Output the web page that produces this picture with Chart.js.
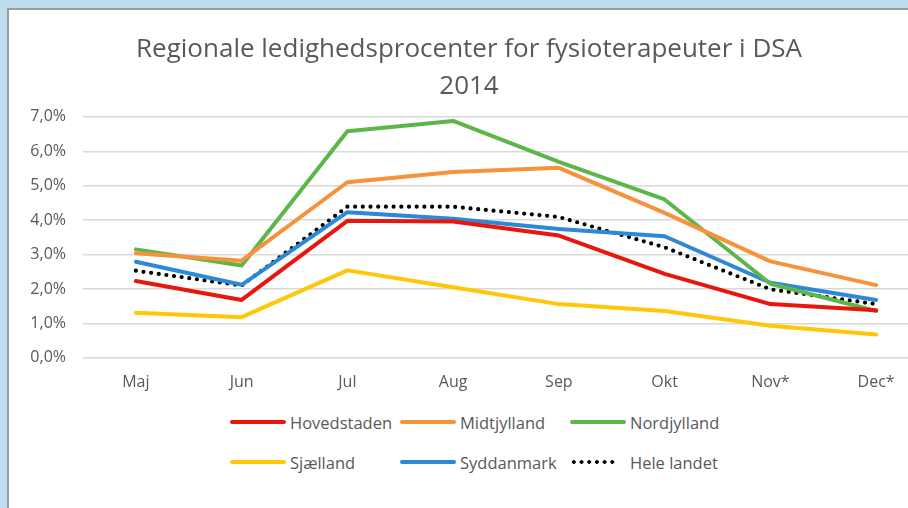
<!DOCTYPE html>
<html>
<head>
<meta charset="utf-8">
<script src="https://cdn.jsdelivr.net/npm/chart.js@4.4.1/dist/chart.umd.min.js"></script>
<style>
  html, body { margin: 0; padding: 0; width: 908px; height: 508px; overflow: hidden; background: #bddcee; }
  #frame {
    position: absolute; left: 7px; top: 8px; width: 950px; height: 520px;
    border-left: 2px solid #9c9c9c; border-top: 2px solid #9c9c9c; background: #ffffff;
  }
  #wrap { position: absolute; left: 0; top: 0; width: 937px; height: 397px; }
  #legend {
    position: absolute; left: 221px; top: 402px;
    display: grid; grid-template-columns: 170px 170px 170px; row-gap: 20px;
    font-family: 'Open Sans', sans-serif; font-size: 16.5px; color: #595959;
  }
  .item { display: flex; align-items: center; height: 20px; }
  .swatch { width: 56px; height: 4px; border-radius: 2px; margin-right: 4px; }
  .dots { width: 46px; margin-right: 14px; height: 4px;
          background-image: radial-gradient(circle, #000 1.9px, transparent 2.1px);
          background-size: 7.7px 4px; }
</style>
</head>
<body>
<div id="frame">
  <div id="wrap"><canvas id="chart"></canvas></div>
  <div id="legend"></div>
</div>
<script>
/* ledighed i procent, maj - dec 2014 */
const MONTHS = ['Maj', 'Jun', 'Jul', 'Aug', 'Sep', 'Okt', 'Nov*', 'Dec*'];

const HOVEDSTADEN = [2.23, 1.68, 3.98, 3.96, 3.55, 2.44, 1.56, 1.38];
const MIDTJYLLAND = [3.04, 2.82, 5.10, 5.40, 5.52, 4.21, 2.80, 2.11];
const NORDJYLLAND = [3.15, 2.68, 6.58, 6.88, 5.69, 4.60, 2.15, 1.36];
const SJAELLAND   = [1.31, 1.18, 2.54, 2.05, 1.56, 1.36, 0.93, 0.68];
const SYDDANMARK  = [2.79, 2.12, 4.23, 4.04, 3.74, 3.53, 2.18, 1.68];
const HELE_LANDET = [2.53, 2.10, 4.39, 4.39, 4.09, 3.21, 1.99, 1.56];

const Y_TICKS = [0, 1, 2, 3, 4, 5, 6, 7];

const TEXT = '#595959';
const GRID = '#d9d9d9';
const FONT = "'Open Sans', sans-serif";

function line(label, data, color) {
  return {
    label, data,
    borderColor: color,
    backgroundColor: color,
    borderWidth: 4,
    pointRadius: 0,
    tension: 0,
    borderCapStyle: 'round',
    borderJoinStyle: 'round',
  };
}

const datasets = [
  line('Hovedstaden', HOVEDSTADEN, '#e8160c'),
  line('Midtjylland', MIDTJYLLAND, '#f7913a'),
  line('Nordjylland', NORDJYLLAND, '#5db64a'),
  line('Sjælland',    SJAELLAND,   '#ffc60a'),
  line('Syddanmark',  SYDDANMARK,  '#2d88d8'),
  Object.assign(line('Hele landet', HELE_LANDET, '#000000'), {
    borderDash: [0, 7.7],
    borderWidth: 4.2,
  }),
];

const chart = new Chart(document.getElementById('chart'), {
  type: 'line',
  data: { labels: MONTHS, datasets },
  options: {
    responsive: true,
    maintainAspectRatio: false,
    animation: false,
    layout: { padding: { left: 0, right: 17, top: 13, bottom: 0 } },
    plugins: {
      legend: { display: false },
      tooltip: { enabled: false },
      title: {
        display: true,
        text: ['Regionale ledighedsprocenter for fysioterapeuter i DSA', '2014'],
        color: TEXT,
        font: { family: FONT, size: 26, weight: 'normal', lineHeight: 1.42 },
        padding: { top: 8, bottom: 12 },
      },
    },
    scales: {
      x: {
        offset: true,
        grid: { display: false, drawTicks: false },
        border: { display: false },
        ticks: { color: TEXT, font: { family: FONT, size: 16 }, padding: 15 },
      },
      y: {
        min: 0, max: 7,
        afterFit: s => { s.width = 74; },
        afterBuildTicks: s => { s.ticks = Y_TICKS.map(v => ({ value: v })); },
        grid: { color: GRID, lineWidth: 1.5, drawTicks: false },
        border: { display: false },
        ticks: {
          color: TEXT,
          font: { family: FONT, size: 16 },
          padding: 17,
          callback: v => v.toFixed(1).replace('.', ',') + '%',
        },
      },
    },
  },
});

/* legend in a 3-column grid, like the original */
const legend = document.getElementById('legend');
chart.data.datasets.forEach(ds => {
  const item = document.createElement('div');
  item.className = 'item';
  const sw = document.createElement('span');
  if (ds.borderDash) {
    sw.className = 'dots';
  } else {
    sw.className = 'swatch';
    sw.style.background = ds.borderColor;
  }
  const txt = document.createElement('span');
  txt.textContent = ds.label;
  item.appendChild(sw);
  item.appendChild(txt);
  legend.appendChild(item);
});
</script>
</body>
</html>
